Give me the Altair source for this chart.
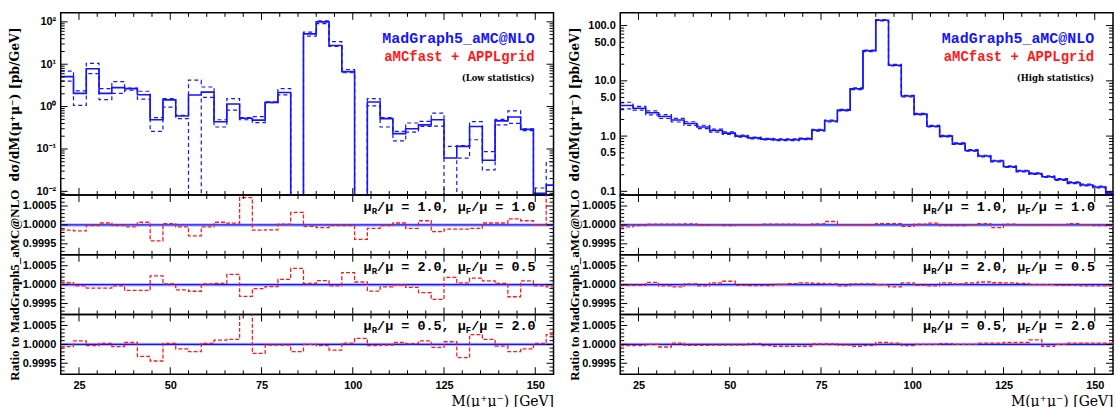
import altair as alt
import pandas as pd

# ---------------- binning ----------------
BIN_START = 20.0
BIN_WIDTH = 3.5
X_DOMAIN = [20, 155]

# ---------------- top panels: dσ/dM [pb/GeV] ----------------
# Low statistics (left)
lo_central = [5.1, 2.05, 7.8, 2.05, 2.8, 2.65, 1.9, 0.49, 1.44, 0.6, 1.88, 2.2, 0.44, 1.15, 0.53, 0.48, 1.26, 2.15, 0, 52,
              100, 27.6, 6.7, 0, 1.28, 0.52, 0.23, 0.30, 0.37, 0.49, 0.061, 0.115, 0.34, 0.054, 0.46, 0.57, 0.29, 0.009, 0.014]
lo_upper = [6.9, 2.35, 10.5, 2.65, 3.9, 2.75, 2.3, 0.55, 1.55, 0.62, 4.2, 2.9, 0.49, 1.55, 0.55, 0.58, 1.3, 2.65, 0, 57,
            105, 34, 7.5, 0, 1.55, 0.55, 0.26, 0.41, 0.45, 0.70, 0.115, 0.12, 0.44, 0.087, 0.50, 0.79, 0.30, 0.012, 0.05]
lo_lower = [4.0, 1.07, 6.0, 1.46, 2.05, 2.45, 1.5, 0.26, 0.97, 0.52, 0, 1.65, 0.33, 0.83, 0.49, 0.42, 1.24, 1.9, 0, 46,
            91, 26.5, 6.3, 0, 1.04, 0.33, 0.155, 0.25, 0.34, 0.345, 0, 0.061, 0.165, 0.032, 0.37, 0.40, 0.27, 0.007, 0.007]

# High statistics (right)
hi_central = [3.57, 3.2, 2.64, 2.26, 1.95, 1.69, 1.46, 1.26, 1.13, 1.0, 0.93, 0.88, 0.86, 0.86, 0.89, 1.28, 1.87, 2.95, 7.2, 35,
              125, 19.2, 5.3, 2.5, 1.51, 1.0, 0.73, 0.55, 0.435, 0.353, 0.279, 0.233, 0.209, 0.184, 0.164, 0.143, 0.13, 0.12, 0.094]
hi_upper = [4.1, 3.45, 2.85, 2.45, 2.1, 1.82, 1.57, 1.34, 1.19, 1.04, 0.96, 0.91, 0.89, 0.89, 0.92, 1.33, 1.94, 3.05, 7.45, 36,
            129, 19.8, 5.45, 2.58, 1.56, 1.03, 0.755, 0.57, 0.45, 0.365, 0.289, 0.241, 0.216, 0.19, 0.17, 0.148, 0.135, 0.124, 0.097]
hi_lower = [3.12, 2.95, 2.42, 2.08, 1.8, 1.56, 1.36, 1.18, 1.07, 0.96, 0.89, 0.85, 0.83, 0.83, 0.86, 1.23, 1.8, 2.85, 6.95, 33.8,
            121, 18.6, 5.13, 2.42, 1.46, 0.97, 0.705, 0.532, 0.42, 0.341, 0.27, 0.225, 0.202, 0.178, 0.158, 0.138, 0.126, 0.116, 0.091]

# ---------------- ratio panels: (ratio - 1) in units of 1e-4 ----------------
lo_ratio_r10_f10 = [-1.4, -1.6, -0.2, 0.5, -0.2, -0.5, 0.7, -4.2, 0.35, -0.5, -2.9, -0.5, 0.7, 0.45, 7.2, -1.4, -1.3, 0.2, 3.3, -0.4,
                    -0.7, -0.2, -0.2, -3.8, -0.9, -0.2, 0.5, -0.9, 1.1, -1.8, -1.1, -1.1, -0.9, 0.5, 0.5, 1.6, 1.1, 0.0, 9.0]
lo_ratio_r20_f05 = [0.5, -0.35, -0.9, -0.9, -0.35, -1.5, -1.5, 2.3, 0.2, -1.4, -1.75, 0.2, 0.35, 2.7, -3.1, -1.05, -0.5, 1.4, 4.3, 0.3,
                    1.05, -0.35, 3.2, 0.7, -1.7, -0.6, -0.1, -0.7, -2.1, -3.9, 1.9, 0.45, 1.75, 1.0, 0.3, -3.2, 1.0, -0.35, -0.6]
lo_ratio_r05_f20 = [-0.6, 0.9, -0.35, 0.25, -0.6, 0.5, -3.2, -4.4, 0.25, -1.2, -1.9, 0.25, 1.1, 1.3, 9.0, -2.4, -0.2, -0.2, -1.9, 0.0,
                    -0.35, -1.5, 0.35, 1.6, -0.35, -0.2, 0.5, 0.2, 0.9, -0.8, 0.7, -3.5, 2.6, 1.3, -0.45, -1.9, -1.2, 0.25, 2.6]
hi_ratio_r10_f10 = [-0.5, -0.2, 0.2, 0.2, 0.2, 0.25, -0.1, 0.0, -0.2, 0.0, 0.1, 0.2, 0.2, 0.2, 0.1, 0.25, 0.9, 0.0, 0.0, 0.0,
                    0.35, 0.35, -0.35, 0.2, 0.45, -0.2, -0.2, 0.0, 0.35, -0.7, 0.2, 0.0, 0.0, 0.0, 0.1, 0.35, 0.0, -0.2, -0.2]
hi_ratio_r20_f05 = [-0.2, -0.2, 0.6, -0.35, -0.6, 0.2, -0.35, 0.45, 0.9, -0.2, -0.25, -0.25, 0.1, 0.25, 0.45, 0.35, 0.2, -0.35, 0.2, 0.2,
                    0.0, -0.6, 0.45, -0.2, -0.35, 0.45, 0.2, 0.45, 0.7, 0.5, 0.45, 0.35, 0.0, 0.0, -0.2, -0.2, -0.35, -0.35, -0.35]
hi_ratio_r05_f20 = [-0.35, -0.35, 0.0, -0.7, 0.35, -0.25, -0.25, -0.2, -0.2, -0.2, 0.2, -0.35, -0.5, -0.5, -0.5, 0.1, 0.1, -0.2, -0.5, -0.35,
                    0.5, 0.35, -0.35, 0.0, 0.0, 0.2, 0.0, 0.0, 0.35, 0.35, 0.5, 0.5, 1.2, -0.5, 0.0, 0.35, 0.35, 0.35, 0.35]

SCALE_CHOICES = [("1.0", "1.0"), ("2.0", "0.5"), ("0.5", "2.0")]

# ---------------- axes / ticks ----------------
X_MAJOR = [25, 50, 75, 100, 125, 150]
X_MINOR = [30, 35, 40, 45, 55, 60, 65, 70, 80, 85, 90, 95, 105, 110, 115, 120, 130, 135, 140, 145]
LO_DOMAIN = [0.00818, 163]
HI_DOMAIN = [0.0857, 170]
LO_LABEL_VALUES = [0.01, 0.1, 1, 10, 100]
LO_LABEL_TEXT = ["10⁻²", "10⁻¹", "10⁰", "10¹", "10²"]
HI_LABEL_VALUES = [0.1, 0.5, 1, 5, 10, 50, 100]
DECADES = [0.001, 0.01, 0.1, 1, 10, 100]
RATIO_DOMAIN = [0.99921, 1.00079]
RATIO_MAJOR = [0.9995, 1.0, 1.0005]
RATIO_MINOR = [0.9993, 0.9994, 0.9996, 0.9997, 0.9998, 0.9999, 1.0001, 1.0002, 1.0003, 1.0004, 1.0006, 1.0007]

W = 495
H_TOP = 183
H_R = 60
BLUE = "#1414ff"
RED = "#ff1a1a"
MAJ_LEN = 7
MIN_LEN = 4

XS = alt.Scale(domain=X_DOMAIN, nice=False, zero=False)


def steps(vals, floor=None):
    xs, ys = [], []
    for k, v in enumerate(vals):
        xs.append(BIN_START + k * BIN_WIDTH)
        ys.append(v if (floor is None or v > 0) else floor)
    xs.append(BIN_START + len(vals) * BIN_WIDTH)
    ys.append(ys[-1])
    return pd.DataFrame({"x": xs, "y": ys})


def minor_log(domain):
    out = []
    for d in DECADES:
        for m in range(2, 10):
            v = m * d
            if domain[0] < v < domain[1]:
                out.append(v)
    return out


def major_log(domain):
    return [d for d in DECADES if domain[0] < d < domain[1]]


def tick_layers(x_enc, y_enc, y_major, y_minor, H):
    out = []
    for vals, L in [(X_MAJOR, MAJ_LEN), (X_MINOR, MIN_LEN)]:
        base = alt.Chart(pd.DataFrame({"x": vals})).mark_rule(color="black", strokeWidth=1)
        out.append(base.encode(x=x_enc, y=alt.value(0), y2=alt.value(L)))
        out.append(base.encode(x=x_enc, y=alt.value(H), y2=alt.value(H - L)))
    for vals, L in [(y_major, MAJ_LEN), (y_minor, MIN_LEN)]:
        base = alt.Chart(pd.DataFrame({"y": vals})).mark_rule(color="black", strokeWidth=1)
        out.append(base.encode(y=y_enc, x=alt.value(0), x2=alt.value(L)))
        out.append(base.encode(y=y_enc, x=alt.value(W), x2=alt.value(W - L)))
    return out


def text_layer(txt, x, y, color="black", font="Liberation Mono", size=14, weight="bold", align="right"):
    return alt.Chart(pd.DataFrame({"t": [txt]})).mark_text(
        align=align, baseline="middle", font=font, fontSize=size, fontWeight=weight, color=color
    ).encode(x=alt.value(x), y=alt.value(y), text="t:N")


def top_panel(central, upper, lower, domain, label_values, label_expr, label_format, stats):
    ys = alt.Scale(type="log", domain=domain, nice=False)
    axis_kw = dict(values=label_values, title="dσ/dM(μ⁺μ⁻) [pb/GeV]", ticks=False, domain=False,
                   grid=False, labelPadding=5, minExtent=34, maxExtent=34, titlePadding=5,
                   titleFont="DejaVu Serif", titleFontSize=12.5)
    if label_expr:
        axis_kw["labelExpr"] = label_expr
    if label_format:
        axis_kw["format"] = label_format
    y_enc = alt.Y("y:Q", scale=ys, axis=alt.Axis(**axis_kw))
    x_enc = alt.X("x:Q", scale=XS, axis=None)
    layers = []
    for vals, dashed, sw in [(upper, True, 1.2), (lower, True, 1.2), (central, False, 1.6)]:
        kw = dict(interpolate="step-after", clip=True, color=BLUE, strokeWidth=sw)
        if dashed:
            kw["strokeDash"] = [4, 3]
        layers.append(alt.Chart(steps(vals, floor=1e-5)).mark_line(**kw).encode(x=x_enc, y=y_enc))
    layers += tick_layers(x_enc, y_enc, major_log(domain), minor_log(domain), H_TOP)
    layers.append(text_layer("MadGraph5_aMC@NLO", 476, 25, color=BLUE, size=15))
    layers.append(text_layer("aMCfast + APPLgrid", 476, 44, color=RED, size=14))
    layers.append(text_layer(stats, 476, 65, font="DejaVu Serif", size=8.5))
    return alt.layer(*layers).properties(width=W, height=H_TOP)


def ratio_panel(offsets, choice, with_title, bottom):
    ys = alt.Scale(domain=RATIO_DOMAIN, nice=False, zero=False)
    y_enc = alt.Y("y:Q", scale=ys, axis=alt.Axis(
        values=RATIO_MAJOR, format=".4f", title="Ratio to MadGraph5_aMC@NLO" if with_title else None,
        ticks=False, domain=False, grid=False, labelPadding=5, minExtent=34, maxExtent=34, titlePadding=5,
        titleFont="Liberation Serif", titleFontSize=13))
    if bottom:
        x_enc = alt.X("x:Q", scale=XS, axis=alt.Axis(
            values=X_MAJOR, format="d", title="M(μ⁺μ⁻) [GeV]", titleAnchor="end", ticks=False, domain=False,
            grid=False, labelPadding=5, titlePadding=4, titleFontWeight="normal", titleFontSize=14))
    else:
        x_enc = alt.X("x:Q", scale=XS, axis=None)
    ratio_vals = [1.0 + d * 1e-4 for d in offsets]
    one = pd.DataFrame({"y": [1.0]})
    layers = [
        alt.Chart(one).mark_rule(color="#8c8cff", strokeWidth=3.5, opacity=0.6).encode(y=y_enc),
        alt.Chart(one).mark_rule(color=BLUE, strokeWidth=1.4).encode(y=y_enc),
        alt.Chart(steps(ratio_vals)).mark_line(interpolate="step-after", clip=True, color=RED,
                                               strokeWidth=1.3, strokeDash=[4, 2]).encode(x=x_enc, y=y_enc),
    ]
    layers += tick_layers(x_enc, y_enc, RATIO_MAJOR, RATIO_MINOR, H_R)
    # annotation  μ_R/μ = a, μ_F/μ = b  (monospace pieces)
    fs, sfs = 13.5, 9
    cw, scw = 0.6 * fs, 0.6 * sfs
    rx, ty = 477, 12
    s_end = f"/μ = {choice[1]}"
    s_mid = f"/μ = {choice[0]}, μ"
    x1 = rx
    x2 = x1 - len(s_end) * cw
    x3 = x2 - scw
    x4 = x3 - len(s_mid) * cw
    x5 = x4 - scw
    layers += [
        text_layer(s_end, x1, ty, size=fs),
        text_layer("F", x2, ty + 4, size=sfs),
        text_layer(s_mid, x3, ty, size=fs),
        text_layer("R", x4, ty + 4, size=sfs),
        text_layer("μ", x5, ty, size=fs),
    ]
    return alt.layer(*layers).properties(width=W, height=H_R)


def lo_expr():
    parts = []
    for i, v in enumerate(LO_LABEL_VALUES[:-1]):
        parts.append(f"datum.value < {v * 3} ? '{LO_LABEL_TEXT[i]}' : ")
    return "".join(parts) + f"'{LO_LABEL_TEXT[-1]}'"


def column(central, upper, lower, domain, label_values, label_expr, label_format, stats, ratios):
    panels = [top_panel(central, upper, lower, domain, label_values, label_expr, label_format, stats)]
    for i, (offs, ch) in enumerate(zip(ratios, SCALE_CHOICES)):
        panels.append(ratio_panel(offs, ch, with_title=(i == 1), bottom=(i == 2)))
    return alt.vconcat(*panels, spacing=0, bounds="flush")


left = column(lo_central, lo_upper, lo_lower, LO_DOMAIN, LO_LABEL_VALUES, lo_expr(), None, "(Low statistics)",
              [lo_ratio_r10_f10, lo_ratio_r20_f05, lo_ratio_r05_f20])
right = column(hi_central, hi_upper, hi_lower, HI_DOMAIN, HI_LABEL_VALUES, None, ".1f", "(High statistics)",
               [hi_ratio_r10_f10, hi_ratio_r20_f05, hi_ratio_r05_f20])

chart = alt.hconcat(left, right, spacing=11).properties(
    padding={"left": 8, "top": 10, "right": 0, "bottom": 0}
).configure_view(
    stroke="black", strokeWidth=1.5
).configure_axis(
    labelFont="Liberation Sans", labelFontSize=11, labelFontWeight="bold", labelColor="black",
    titleFont="DejaVu Serif", titleFontSize=13, titleFontWeight="bold", titleColor="black", grid=False
).configure_concat(spacing=11)

chart.save("out.html", embed_options={"renderer": "svg", "actions": False})
